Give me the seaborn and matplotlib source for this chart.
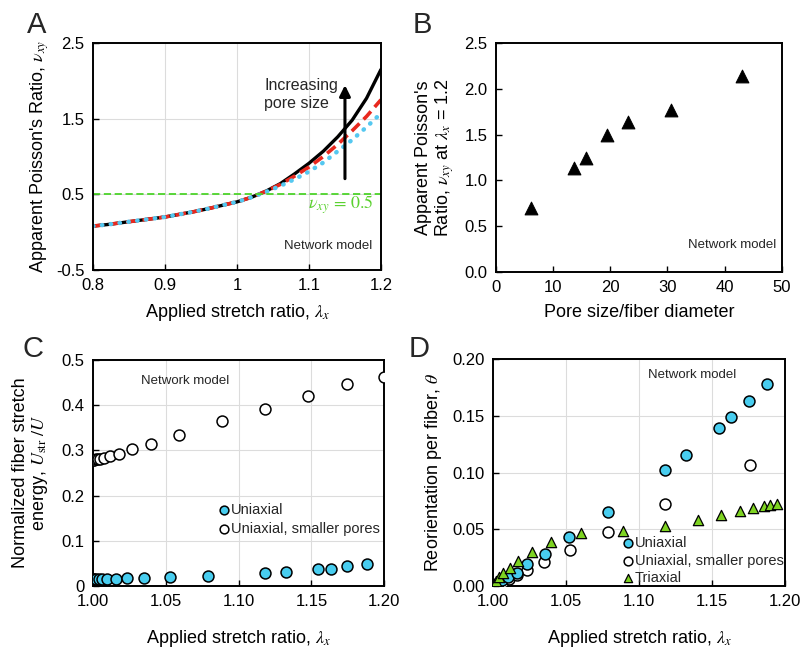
import matplotlib
matplotlib.use("Agg")
import matplotlib.pyplot as plt
import seaborn as sns

# panel A: apparent Poisson's ratio curves
stretch_a = [0.80, 0.82, 0.84, 0.86, 0.88, 0.90, 0.92, 0.94, 0.96, 0.98, 1.00,
             1.02, 1.04, 1.06, 1.08, 1.10, 1.12, 1.14, 1.16, 1.18, 1.20]
nu_large = [0.08, 0.10, 0.125, 0.15, 0.175, 0.20, 0.235, 0.27, 0.31, 0.355, 0.40,
            0.46, 0.54, 0.64, 0.77, 0.91, 1.07, 1.26, 1.48, 1.77, 2.15]
nu_mid = [0.08, 0.10, 0.125, 0.15, 0.175, 0.20, 0.235, 0.27, 0.31, 0.355, 0.40,
          0.46, 0.54, 0.63, 0.74, 0.86, 1.00, 1.16, 1.34, 1.53, 1.75]
nu_small = [0.08, 0.10, 0.125, 0.15, 0.175, 0.20, 0.235, 0.27, 0.31, 0.355, 0.40,
            0.46, 0.53, 0.61, 0.70, 0.80, 0.92, 1.07, 1.22, 1.39, 1.57]

# panel B
pore_ratio = [6.1, 13.6, 15.7, 19.4, 23.1, 30.6, 43.1]
nu_at_12 = [0.70, 1.13, 1.24, 1.49, 1.64, 1.77, 2.14]

# panel C
c_uni_x = [1.0000, 1.0005, 1.0023, 1.0041, 1.0064, 1.0096, 1.0156, 1.0234, 1.0349,
           1.0528, 1.0791, 1.1181, 1.1326, 1.1548, 1.1633, 1.1748, 1.1881]
c_uni_y = [0.015, 0.015, 0.015, 0.015, 0.015, 0.015, 0.016, 0.017, 0.018,
           0.020, 0.022, 0.028, 0.032, 0.037, 0.039, 0.044, 0.050]
c_small_x = [1.0000, 1.0010, 1.0020, 1.0035, 1.0050, 1.0076, 1.0115, 1.0179, 1.0268,
             1.0397, 1.0592, 1.0883, 1.1181, 1.1479, 1.1743, 1.2000]
c_small_y = [0.278, 0.279, 0.280, 0.281, 0.282, 0.284, 0.287, 0.292, 0.302,
             0.314, 0.333, 0.364, 0.392, 0.421, 0.446, 0.463]

# panel D
d_uni_x = [1.0000, 1.0010, 1.0030, 1.0060, 1.0100, 1.0164, 1.0233, 1.0358, 1.0517,
           1.0784, 1.1179, 1.1320, 1.1544, 1.1628, 1.1751, 1.1875]
d_uni_y = [0.000, 0.001, 0.0025, 0.005, 0.008, 0.012, 0.0195, 0.0283, 0.043,
           0.065, 0.102, 0.116, 0.1395, 0.1487, 0.163, 0.178]
d_small_x = [1.0000, 1.0020, 1.0040, 1.0070, 1.0110, 1.0160, 1.0233, 1.0351,
             1.0525, 1.0784, 1.1179, 1.1756]
d_small_y = [0.000, 0.001, 0.002, 0.004, 0.006, 0.0097, 0.014, 0.0215,
             0.032, 0.048, 0.072, 0.1065]
d_tri_x = [1.0005, 1.0016, 1.0039, 1.0068, 1.0114, 1.0171, 1.0267, 1.0397, 1.0598,
           1.0889, 1.1179, 1.1403, 1.1560, 1.1688, 1.1779, 1.1852, 1.1897, 1.1943]
d_tri_y = [0.0018, 0.0041, 0.0077, 0.0112, 0.0156, 0.0224, 0.0298, 0.0392, 0.047,
           0.049, 0.0528, 0.0587, 0.0628, 0.0664, 0.0687, 0.0705, 0.0717, 0.0726]

sns.set_theme(style="white")
plt.rcParams["font.family"] = ["Liberation Sans", "DejaVu Sans"]
plt.rcParams["mathtext.fontset"] = "stix"
plt.rcParams["axes.unicode_minus"] = False

BLUE = "#48cdef"
GREEN = "#7ed321"
GRID = "#dcdcdc"

fig = plt.figure(figsize=(8.02, 6.52), dpi=100)
ax_a = fig.add_axes([0.116, 0.586, 0.359, 0.348])
ax_b = fig.add_axes([0.618, 0.583, 0.357, 0.351])
ax_c = fig.add_axes([0.116, 0.101, 0.363, 0.347])
ax_d = fig.add_axes([0.615, 0.101, 0.364, 0.348])


def style_axes(ax, grid=True):
    for sp in ax.spines.values():
        sp.set_color("black")
        sp.set_linewidth(1.4)
    ax.tick_params(direction="in", length=4, width=1, color="black",
                   labelsize=12, labelcolor="black", bottom=True, left=True, pad=6)
    if grid:
        ax.grid(True, color=GRID, lw=0.8)
        ax.set_axisbelow(True)
    else:
        ax.grid(False)


# A
style_axes(ax_a)
sns.lineplot(x=stretch_a, y=nu_large, ax=ax_a, color="black", lw=2.4)
sns.lineplot(x=stretch_a, y=nu_mid, ax=ax_a, color="#e8281e", lw=2.6, linestyle=(0, (3, 1.6)))
sns.lineplot(x=stretch_a, y=nu_small, ax=ax_a, color="#55c8f0", lw=3.2,
             linestyle=(0, (0.1, 1.9)), dash_capstyle="round")
ax_a.axhline(0.5, color="#4cd42a", lw=1.3, linestyle=(0, (4, 2)))
ax_a.annotate("", xy=(1.15, 1.98), xytext=(1.15, 0.67),
              arrowprops=dict(arrowstyle="-|>", lw=2.2, color="black", mutation_scale=16))
ax_a.text(1.038, 1.82, "Increasing\npore size", fontsize=11.5, ha="left", va="center",
          linespacing=1.25)
ax_a.text(1.19, 0.36, r"$\nu_{xy}\,=\,0.5$", color="#5ad12f", fontsize=13, ha="right", va="center")
ax_a.text(1.188, -0.18, "Network model", fontsize=9.5, ha="right", va="center")
ax_a.set_xlim(0.8, 1.2)
ax_a.set_ylim(-0.5, 2.5)
ax_a.set_xticks([0.8, 0.9, 1.0, 1.1, 1.2])
ax_a.set_xticklabels(["0.8", "0.9", "1", "1.1", "1.2"])
ax_a.set_yticks([-0.5, 0.5, 1.5, 2.5])
ax_a.set_yticklabels(["-0.5", "0.5", "1.5", "2.5"])
ax_a.set_xlabel(r"Applied stretch ratio, $\lambda_x$", fontsize=13, labelpad=6, color="black")
ax_a.set_ylabel(r"Apparent Poisson's Ratio, $\nu_{xy}$", fontsize=13, labelpad=4, color="black")

# B
style_axes(ax_b, grid=False)
sns.scatterplot(x=pore_ratio, y=nu_at_12, ax=ax_b, marker="^", s=85, color="black",
                edgecolor="black")
ax_b.text(0.98, 0.118, "Network model", transform=ax_b.transAxes, fontsize=9.5,
          ha="right", va="center")
ax_b.set_xlim(0, 50)
ax_b.set_ylim(0, 2.5)
ax_b.set_xticks([0, 10, 20, 30, 40, 50])
ax_b.set_yticks([0, 0.5, 1.0, 1.5, 2.0, 2.5])
ax_b.set_yticklabels(["0.0", "0.5", "1.0", "1.5", "2.0", "2.5"])
ax_b.set_xlabel("Pore size/fiber diameter", fontsize=13, labelpad=6, color="black")
ax_b.set_ylabel("Apparent Poisson's\n" + r"Ratio, $\nu_{xy}$ at $\lambda_x$ = 1.2",
                fontsize=13, labelpad=6, color="black", linespacing=1.1)

# C
style_axes(ax_c)
sns.scatterplot(x=c_small_x, y=c_small_y, ax=ax_c, s=62, facecolor="white",
                edgecolor="black", linewidth=1.1, label="Uniaxial, smaller pores", zorder=3)
sns.scatterplot(x=c_uni_x, y=c_uni_y, ax=ax_c, s=62, color=BLUE,
                edgecolor="black", linewidth=1.1, label="Uniaxial", zorder=3)
h, l = ax_c.get_legend_handles_labels()
ax_c.legend(h[::-1], l[::-1], loc="center left", bbox_to_anchor=(0.41, 0.295), frameon=False,
            fontsize=10.5, handletextpad=0.1, borderaxespad=0, labelspacing=0.35,
            handlelength=0.8, markerscale=0.8)
ax_c.text(0.165, 0.905, "Network model", transform=ax_c.transAxes, fontsize=9.5,
          ha="left", va="center")
ax_c.set_xlim(1.0, 1.2)
ax_c.set_ylim(0, 0.5)
ax_c.set_xticks([1.0, 1.05, 1.1, 1.15, 1.2])
ax_c.set_xticklabels(["1.00", "1.05", "1.10", "1.15", "1.20"])
ax_c.set_yticks([0, 0.1, 0.2, 0.3, 0.4, 0.5])
ax_c.set_yticklabels(["0", "0.1", "0.2", "0.3", "0.4", "0.5"])
ax_c.set_xlabel(r"Applied stretch ratio, $\lambda_x$", fontsize=13, labelpad=13, color="black")
ax_c.set_ylabel("Normalized fiber stretch\n" + r"energy, $U_{\mathrm{str}}\ /U$",
                fontsize=13, labelpad=8, color="black", linespacing=1.1)

# D
style_axes(ax_d)
sns.scatterplot(x=d_small_x, y=d_small_y, ax=ax_d, s=62, facecolor="white",
                edgecolor="black", linewidth=1.1, label="Uniaxial, smaller pores", zorder=3)
sns.scatterplot(x=d_uni_x, y=d_uni_y, ax=ax_d, s=62, color=BLUE,
                edgecolor="black", linewidth=1.1, label="Uniaxial", zorder=3)
sns.scatterplot(x=d_tri_x, y=d_tri_y, ax=ax_d, marker="^", s=55, color=GREEN,
                edgecolor="black", linewidth=0.9, label="Triaxial", zorder=4)
h, l = ax_d.get_legend_handles_labels()
ax_d.legend([h[1], h[0], h[2]], [l[1], l[0], l[2]], loc="center left",
            bbox_to_anchor=(0.42, 0.113), frameon=False, fontsize=10.5, handletextpad=0.1,
            borderaxespad=0, labelspacing=0.25, handlelength=0.8, markerscale=0.8)
ax_d.text(0.53, 0.93, "Network model", transform=ax_d.transAxes, fontsize=9.5,
          ha="left", va="center")
ax_d.set_xlim(1.0, 1.2)
ax_d.set_ylim(0, 0.2)
ax_d.set_xticks([1.0, 1.05, 1.1, 1.15, 1.2])
ax_d.set_xticklabels(["1.00", "1.05", "1.10", "1.15", "1.20"])
ax_d.set_yticks([0, 0.05, 0.1, 0.15, 0.2])
ax_d.set_yticklabels(["0.00", "0.05", "0.10", "0.15", "0.20"])
ax_d.set_xlabel(r"Applied stretch ratio, $\lambda_x$", fontsize=13, labelpad=13, color="black")
ax_d.set_ylabel(r"Reorientation per fiber, $\theta$", fontsize=13, labelpad=6, color="black")

for letter, x, y in [("A", 0.033, 0.962), ("B", 0.515, 0.962), ("C", 0.028, 0.465), ("D", 0.51, 0.465)]:
    fig.text(x, y, letter, fontsize=21, ha="left", va="center")

fig.savefig("out.png", dpi=100)
